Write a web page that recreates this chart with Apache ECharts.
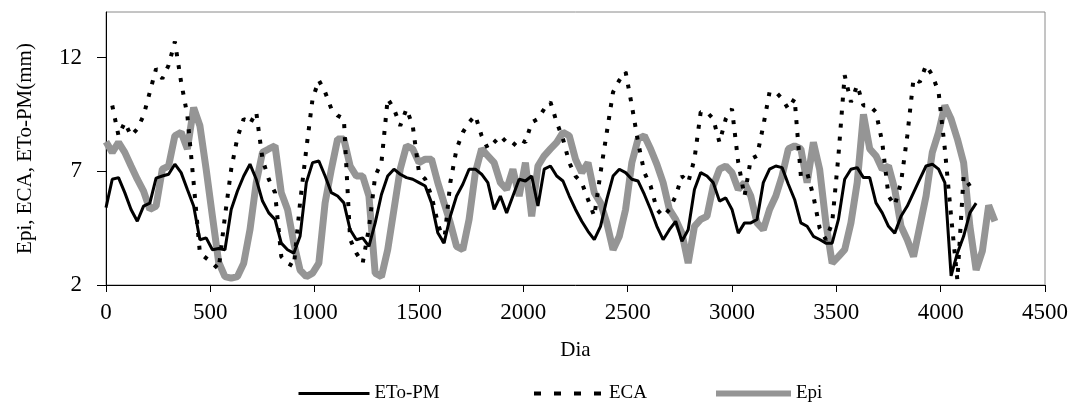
<!DOCTYPE html>
<html>
<head>
<meta charset="utf-8">
<script src="https://cdn.jsdelivr.net/npm/echarts@6/dist/echarts.min.js"></script>
<style>
html,body{margin:0;padding:0;background:#fff;}
#chart{width:1075px;height:402px;}
</style>
</head>
<body>
<div id="chart"></div>
<script>
// Day of each sampled reading
const days = [
  0,30,60,90,120,150,180,210,240,270,
  300,330,360,390,420,450,480,510,540,570,
  600,630,660,690,720,750,780,810,840,870,
  900,930,960,990,1020,1050,1080,1110,1140,1170,
  1200,1230,1260,1290,1320,1350,1380,1410,1440,1470,
  1500,1530,1560,1590,1620,1650,1680,1710,1740,1770,
  1800,1830,1860,1890,1920,1950,1980,2010,2040,2070,
  2100,2130,2160,2190,2220,2250,2280,2310,2340,2370,
  2400,2430,2460,2490,2520,2550,2580,2610,2640,2670,
  2700,2730,2760,2790,2820,2850,2880,2910,2940,2970,
  3000,3030,3060,3090,3120,3150,3180,3210,3240,3270,
  3300,3330,3360,3390,3420,3450,3480,3510,3540,3570,
  3600,3630,3660,3690,3720,3750,3780,3810,3840,3870,
  3900,3930,3960,3990,4020,4050,4080,4110,4140,4170,
  4200,4230,4260
];
const etoPM = [
  5.4,6.65,6.72,6.06,5.32,4.8,5.47,5.6,6.7,6.79,
  6.87,7.31,6.94,6.2,5.47,3.99,4.07,3.55,3.6,3.55,
  5.32,6.13,6.79,7.31,6.65,5.69,5.17,4.88,3.84,3.55,
  3.4,4.14,6.5,7.38,7.45,6.79,6.06,5.91,5.61,4.43,
  3.99,4.07,3.7,4.73,5.98,6.79,7.09,6.87,6.72,6.65,
  6.5,6.35,5.61,4.3,3.84,5.02,5.91,6.43,7.09,7.09,
  6.87,6.5,5.32,5.91,5.17,5.91,6.65,6.57,6.79,5.47,
  7.09,7.23,6.79,6.57,5.91,5.32,4.8,4.36,3.99,4.58,
  5.76,6.79,7.09,6.94,6.65,6.57,5.98,5.32,4.58,3.99,
  4.43,4.8,3.92,4.43,6.2,6.94,6.79,6.5,5.69,5.83,
  5.32,4.28,4.73,4.73,4.88,6.5,7.09,7.23,7.16,6.43,
  5.76,4.73,4.58,4.14,4.0,3.84,3.84,4.88,6.65,7.09,
  7.16,6.72,6.72,5.61,5.17,4.58,4.28,5.02,5.47,6.06,
  6.65,7.23,7.31,7.09,6.5,2.4,3.4,4.14,5.17,5.6,
  null,null,null
];
const eca = [
  null,9.89,8.56,9.15,8.56,8.86,9.45,10.48,11.51,11.07,
  11.66,12.7,10.92,9.45,6.5,3.4,3.18,2.96,2.7,5.02,
  7.09,8.49,9.3,9.08,9.6,7.53,6.65,6.06,3.25,2.96,
  2.81,5.61,7.98,10.19,11.0,10.48,9.74,9.45,9.3,4.0,
  3.4,2.96,4.5,6.79,7.38,10.19,9.74,9.0,9.74,9.0,
  6.94,6.65,5.91,4.73,3.84,6.5,7.98,8.71,9.15,9.45,
  8.56,8.0,8.27,8.56,8.27,8.12,8.42,8.27,9.15,9.3,
  9.74,10.04,9.15,8.42,7.38,6.79,6.5,5.76,5.02,6.94,
  8.71,10.48,11.0,11.37,9.89,8.27,6.94,6.35,5.32,5.02,
  5.32,5.91,6.79,6.5,7.53,9.6,9.6,9.3,8.27,9.3,
  9.74,7.38,5.91,7.53,7.68,9.0,10.48,10.48,10.19,9.74,
  10.19,6.79,6.94,5.91,4.5,3.99,4.73,7.68,11.22,10.04,
  10.78,9.89,9.89,9.6,8.27,5.91,5.5,6.5,8.56,11.07,
  10.92,11.66,11.22,10.48,7.98,5.02,2.22,6.79,6.35,null,
  null,null,null
];
const epi = [
  8.3,7.83,8.27,7.83,7.23,6.65,6.13,5.32,5.47,7.09,
  7.23,8.56,8.71,7.98,9.8,9.0,7.09,5.02,3.0,2.37,
  2.3,2.37,2.96,4.43,6.5,7.83,7.98,8.12,6.06,5.32,
  3.84,2.66,2.37,2.52,2.96,5.61,7.09,8.42,8.42,7.23,
  6.79,6.79,5.91,2.52,2.37,3.55,5.32,7.09,8.12,7.98,
  7.38,7.53,7.53,6.5,5.61,4.73,3.7,3.55,4.88,6.94,
  7.98,7.68,7.38,6.5,6.2,7.09,5.91,7.38,5.02,7.23,
  7.68,7.98,8.27,8.71,8.56,7.53,6.94,7.38,6.06,5.61,
  4.73,3.55,4.14,5.32,7.38,8.42,8.56,7.98,7.3,6.5,
  5.32,4.88,4.28,2.96,4.58,4.88,5.02,6.35,7.09,7.23,
  6.94,6.2,6.5,5.91,4.73,4.43,5.32,5.91,6.79,7.98,
  8.12,7.98,6.5,8.27,7.09,4.73,2.96,3.25,3.55,4.73,
  6.5,9.5,7.98,7.68,7.09,7.23,6.2,4.58,3.99,3.25,
  4.58,5.91,7.83,8.71,9.89,9.3,8.42,7.38,4.58,2.66,
  3.5,5.5,4.8
];
const xTicks = [0,500,1000,1500,2000,2500,3000,3500,4000,4500];
const yTicks = [2,7,12];
const names = ['ETo-PM','ECA','Epi'];

const pair = arr => days.map((d,i) => [d, arr[i] == null ? '-' : arr[i]]);
const serif = '"Liberation Serif", "Times New Roman", serif';

const chart = echarts.init(document.getElementById('chart'), null, {renderer:'canvas'});
chart.setOption({
  animation:false,
  backgroundColor:'#ffffff',
  grid:{left:106,right:30,top:12,bottom:117,show:true,borderColor:'#8a8a8a',borderWidth:1,backgroundColor:'transparent'},
  xAxis:{
    type:'value',min:xTicks[0],max:xTicks[xTicks.length-1],interval:500,
    name:'Dia',nameLocation:'middle',nameGap:55,
    nameTextStyle:{fontFamily:serif,fontSize:21,color:'#000'},
    axisLine:{show:true,onZero:false,lineStyle:{color:'#000',width:1}},
    axisTick:{show:true,inside:false,length:7,lineStyle:{color:'#000'}},
    axisLabel:{margin:16,fontFamily:serif,fontSize:23,color:'#000',formatter:v => String(v)},
    splitLine:{show:false}
  },
  yAxis:{
    type:'value',min:2,max:14,
    name:'Epi, ECA, ETo-PM(mm)',nameLocation:'middle',nameGap:70,nameRotate:90,
    nameTextStyle:{fontFamily:serif,fontSize:21,color:'#000'},
    axisLine:{show:true,onZero:false,lineStyle:{color:'#000',width:1}},
    axisTick:{show:true,inside:false,length:9,customValues:yTicks,lineStyle:{color:'#000'}},
    axisLabel:{margin:24,fontFamily:serif,fontSize:23,color:'#000',customValues:yTicks,formatter:v => String(v)},
    splitLine:{show:false}
  },
  legend:[
    {data:[names[0]],left:292,top:379,itemWidth:71,itemHeight:14,itemGap:0,
     textStyle:{fontFamily:serif,fontSize:19,color:'#000'},
     itemStyle:{opacity:0},lineStyle:{width:3}},
    {data:[names[1]],left:527,top:379,itemWidth:70,itemHeight:14,itemGap:0,
     textStyle:{fontFamily:serif,fontSize:19,color:'#000'},
     itemStyle:{opacity:0},lineStyle:{width:4,type:[7,13]}},
    {data:[names[2]],left:708,top:379,itemWidth:75,itemHeight:14,itemGap:0,
     textStyle:{fontFamily:serif,fontSize:19,color:'#000'},
     itemStyle:{opacity:0},lineStyle:{width:6}}
  ],
  series:[
    {name:names[2],type:'line',data:pair(epi),showSymbol:false,symbol:'none',z:1,
     lineStyle:{color:'#959595',width:7},itemStyle:{color:'#959595'}},
    {name:names[0],type:'line',data:pair(etoPM),showSymbol:false,symbol:'none',z:2,
     lineStyle:{color:'#000',width:3},itemStyle:{color:'#000'}},
    {name:names[1],type:'line',data:pair(eca),showSymbol:false,symbol:'none',z:3,
     lineStyle:{color:'#000',width:4,type:[4,9],cap:'butt'},itemStyle:{color:'#000'}}
  ]
});
</script>
</body>
</html>
